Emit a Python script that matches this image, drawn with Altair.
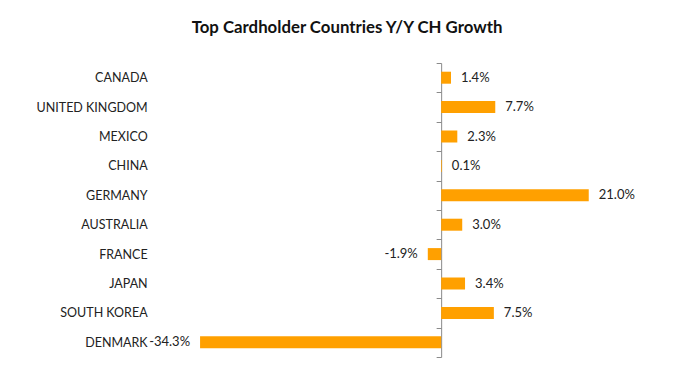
import altair as alt
import pandas as pd

countries = ["CANADA", "UNITED KINGDOM", "MEXICO", "CHINA", "GERMANY",
             "AUSTRALIA", "FRANCE", "JAPAN", "SOUTH KOREA", "DENMARK"]
growth = [1.4, 7.7, 2.3, 0.1, 21.0, 3.0, -1.9, 3.4, 7.5, -34.3]

df = pd.DataFrame({"country": countries, "growth": growth})
df["label"] = [f"{v:.1f}%" for v in growth]

W = 492
H = 294
XMIN, XMAX = -40, 30
zero_px = W * (0 - XMIN) / (XMAX - XMIN)

FONT = "Lato"
ORANGE = "#FFA000"

y_enc = alt.Y(
    "country:N",
    sort=countries,
    scale=alt.Scale(paddingInner=0, paddingOuter=0),
    axis=alt.Axis(
        title=None,
        orient="left",
        offset=-zero_px,
        domain=True,
        domainColor="#8a8a8a",
        ticks=True,
        tickBand="extent",
        tickSize=5,
        tickColor="#8a8a8a",
        labelPadding=289,
        labelFont=FONT,
        labelFontSize=12.5,
        labelColor="#222222",
        labelAlign="right",
    ),
)

x_enc = alt.X(
    "growth:Q",
    scale=alt.Scale(domain=[XMIN, XMAX], nice=False, zero=False),
    axis=None,
)

base = alt.Chart(df)

bars = base.mark_bar(color=ORANGE, size=12).encode(x=x_enc, y=y_enc)

pos_text = base.transform_filter("datum.growth >= 0").mark_text(
    align="left", baseline="middle", dx=10, font=FONT, fontSize=13, color="#222222"
).encode(x=alt.X("growth:Q"), y=alt.Y("country:N", sort=countries), text="label:N")

neg_text = base.transform_filter("datum.growth < 0").mark_text(
    align="right", baseline="middle", dx=-10, font=FONT, fontSize=13, color="#222222"
).encode(x=alt.X("growth:Q"), y=alt.Y("country:N", sort=countries), text="label:N")

chart = (
    alt.layer(bars, pos_text, neg_text)
    .properties(
        width=W,
        height=H,
        title=alt.TitleParams(
            "Top Cardholder Countries Y/Y CH Growth",
            font=FONT,
            fontSize=16.8,
            fontWeight="bold",
            color="#111111",
            anchor="middle",
            dx=-59,
            offset=20,
        ),
        autosize=alt.AutoSizeParams(type="none"),
        padding={"left": 152, "top": 55, "right": 22, "bottom": 20},
    )
    .configure_view(stroke=None)
)

chart.save("out.html", embed_options={"renderer": "svg", "actions": False})
